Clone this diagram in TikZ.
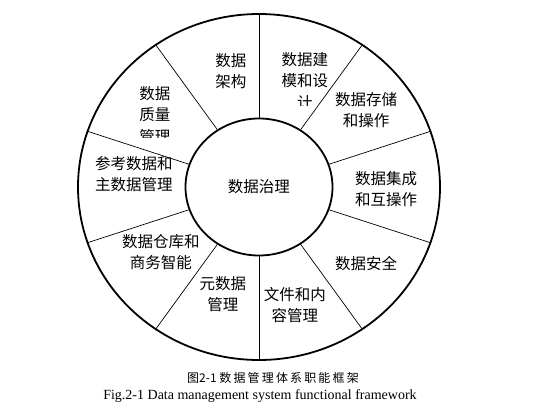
\documentclass[tikz,border=0pt]{standalone}
\usepackage{fontspec}
\usepackage{tikz}
\usetikzlibrary{shapes.geometric}
\newfontfamily\cjk{Noto Sans CJK SC}
\newfontfamily\cjkcap[LetterSpace=18]{Noto Sans CJK SC}
\newfontfamily\capen{Liberation Serif}

\begin{document}
\begin{tikzpicture}[x=1pt,y=1pt,
    ring/.style={draw,ellipse,line width=1.8pt,inner sep=0pt},
    sector/.style={align=center,inner sep=0pt,font=\cjk\fontsize{15.5}{21.5}\selectfont}]
  \useasboundingbox (-259,-226) rectangle (287,187);
  \node[ring,minimum width=362pt,minimum height=346pt] (outer) at (0,0) {};
  \node[ring,minimum width=147pt,minimum height=137pt,
    font=\cjk\fontsize{15.5}{21.5}\selectfont] (core) at (0,0) {数据治理};
  \foreach \a in {90,54,...,-234}
    \draw[line width=0.7pt] (core.\a) -- (outer.\a);
  \node[sector] (arch) at (-28,116) {数据\\架构};
  \begin{scope}
    \clip (10,82) rectangle (90,160);
    \node[sector] (model) at (46,106) {数据建\\模和设\\计};
  \end{scope}
  \node[sector] (store) at (107,77) {数据存储\\和操作};
  \node[sector] (integ) at (127,-2) {数据集成\\和互操作};
  \node[sector] (secur) at (107,-77) {数据安全};
  \node[sector] (docu) at (36,-118) {文件和内\\容管理};
  \node[sector] (meta) at (-36,-107) {元数据\\管理};
  \node[sector] (dwbi) at (-98,-65) {数据仓库和\\商务智能};
  \node[sector] (mdm) at (-125,13) {参考数据和\\主数据管理};
  \begin{scope}
    \clip (-150,50) rectangle (-60,120);
    \node[sector] (qual) at (-104,72) {数据\\质量\\管理};
  \end{scope}
  \node[font=\fontsize{12}{14}\selectfont] (capzh) at (14,-191)
    {\cjk 图2-1 \cjkcap 数据管理体系职能框架};
  \node[font=\capen\fontsize{14}{16}\selectfont] (capen) at (1,-209)
    {Fig.2-1 Data management system functional framework};
\end{tikzpicture}
\end{document}
